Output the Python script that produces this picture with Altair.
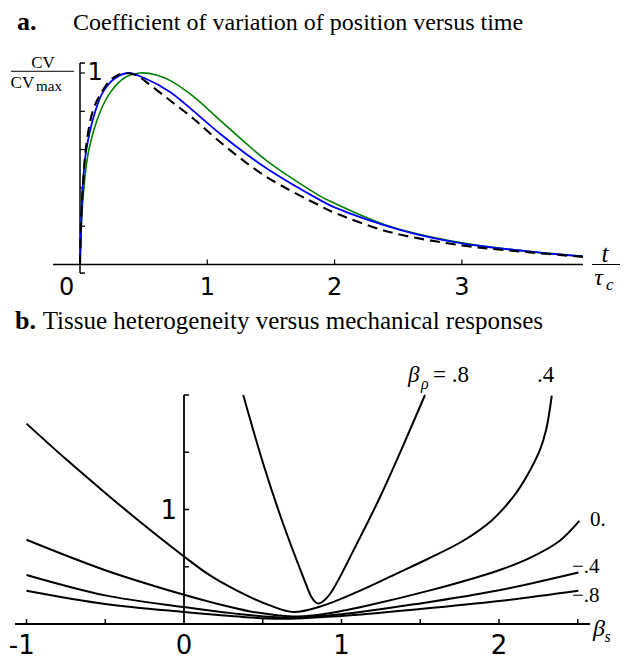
import altair as alt
import pandas as pd

# ---------------- panel a : CV/CVmax versus t/tau_c ----------------
A_DASH_T = [0, 0.01, 0.025, 0.045, 0.1, 0.17, 0.25, 0.35, 0.45, 0.565, 0.72, 0.885, 1.05, 1.25, 1.47, 1.89, 2.0, 2.43, 3.0, 3.5, 3.95]
A_DASH_V = [0, 0.25, 0.42, 0.6, 0.8, 0.9, 0.97, 1.0, 0.985, 0.93, 0.85, 0.765, 0.668, 0.56, 0.455, 0.305, 0.27, 0.17, 0.10, 0.065, 0.04]

A_BLUE_T = [0, 0.01, 0.02, 0.05, 0.12, 0.18, 0.27, 0.38, 0.5, 0.71, 0.885, 1.105, 1.3, 1.47, 1.89, 2.0, 2.52, 3.0, 3.5, 3.95]
A_BLUE_V = [0, 0.22, 0.4, 0.6, 0.8, 0.9, 0.97, 1.0, 0.975, 0.90, 0.805, 0.68, 0.58, 0.50, 0.335, 0.298, 0.18, 0.11, 0.07, 0.042]

A_GREEN_T = [0, 0.01, 0.03, 0.07, 0.16, 0.24, 0.35, 0.47, 0.6, 0.71, 0.885, 1.105, 1.3, 1.47, 1.89, 2.0, 2.43, 3.0, 3.5, 3.95]
A_GREEN_V = [0, 0.2, 0.4, 0.6, 0.8, 0.9, 0.975, 1.0, 0.99, 0.96, 0.88, 0.75, 0.635, 0.54, 0.356, 0.32, 0.2, 0.113, 0.07, 0.043]

A_XTICKS = [1, 2, 3]
A_XLABELS = ["0", "1", "2", "3"]
A_XLABEL_POS = [-0.105, 1, 2, 3]
A_YTICKS = [0.2, 0.4, 0.6, 0.8, 1.0]
A_YLABELS = ["1"]

# ---------------- panel b : heterogeneity versus responses ----------------
B_P08_S = [0.376, 0.503, 0.63, 0.757, 0.81, 0.835, 0.853, 0.875, 0.927, 1.097, 1.244, 1.392, 1.53]
B_P08_V = [2.0, 1.40, 0.873, 0.41, 0.233, 0.19, 0.18, 0.19, 0.262, 0.70, 1.107, 1.56, 2.0]

B_P04_S = [-1.0, -0.75, -0.5, -0.25, 0.0, 0.165, 0.42, 0.55, 0.694, 0.86, 1.1, 1.35, 1.55, 1.77, 1.95, 2.09, 2.18, 2.26, 2.3, 2.335]
B_P04_V = [1.75, 1.44, 1.145, 0.86, 0.59, 0.425, 0.235, 0.16, 0.105, 0.15, 0.28, 0.44, 0.57, 0.725, 0.90, 1.11, 1.30, 1.52, 1.70, 1.994]

B_P00_S = [-1.0, -0.5, 0.0, 0.2, 0.42, 0.6, 0.72, 0.9, 1.16, 1.58, 2.0, 2.2, 2.384, 2.51]
B_P00_V = [0.736, 0.47, 0.255, 0.18, 0.11, 0.075, 0.065, 0.09, 0.16, 0.30, 0.47, 0.58, 0.725, 0.9]

B_M04_S = [-1.0, -0.5, 0.0, 0.3, 0.65, 1.0, 1.5, 2.0, 2.504]
B_M04_V = [0.428, 0.25, 0.148, 0.095, 0.055, 0.085, 0.18, 0.295, 0.45]

B_M08_S = [-1.0, -0.5, 0.0, 0.3, 0.6, 1.0, 1.5, 2.0, 2.504]
B_M08_V = [0.291, 0.175, 0.105, 0.07, 0.045, 0.07, 0.13, 0.2, 0.29]

B_XTICKS = [-1, -0.5, 0.5, 1, 1.5, 2, 2.5]
B_XLABELS = ["-1", "0", "1", "2"]
B_XLABEL_POS = [-1.03, 0, 1, 2]
B_YTICKS = [0.5, 1, 1.5, 2]
B_YLABELS = ["1"]

# ---------------- layout (scale domains) ----------------
A_W, A_H = 617, 288
A_XDOM = [-0.5656, 4.2812]
A_YDOM = [-0.1802, 1.3238]
B_W, B_H = 617, 356
B_XDOM = [-1.1175, 2.8]
B_YDOM = [-0.2795, 2.8297]

SERIF = "Liberation Serif"
SANS = "DejaVu Sans"


def enc_x(field, dom):
    return alt.X(field, type="quantitative", scale=alt.Scale(domain=dom, nice=False, zero=False), axis=None)


def enc_y(field, dom):
    return alt.Y(field, type="quantitative", scale=alt.Scale(domain=dom, nice=False, zero=False), axis=None)


def line_layer(xs, ys, xdom, ydom, **kw):
    df = pd.DataFrame({"x": xs, "y": ys})
    return alt.Chart(df).mark_line(interpolate="catmull-rom", **kw).encode(
        x=enc_x("x", xdom), y=enc_y("y", ydom))


def rule_layer(df, xdom, ydom, **kw):
    return alt.Chart(df).mark_rule(color="black", **kw).encode(
        x=enc_x("x", xdom), x2=alt.X2("x2"), y=enc_y("y", ydom), y2=alt.Y2("y2"))


def text_layer(xs, ys, labels, xdom, ydom, **kw):
    df = pd.DataFrame({"x": xs, "y": ys, "label": labels})
    return alt.Chart(df).mark_text(color="black", **kw).encode(
        x=enc_x("x", xdom), y=enc_y("y", ydom), text="label:N")


# ---------- panel a ----------
a_axes = pd.DataFrame({
    "x": [-0.212, 0, 0, 0],
    "x2": [3.951, 0, 0.039, 0.039],
    "y": [0, -0.045, -0.045, 1.052],
    "y2": [0, 1.052, -0.045, 1.052],
})
a_xt = pd.DataFrame({"x": A_XTICKS, "x2": A_XTICKS, "y": [0] * 3, "y2": [0.026] * 3})
a_yt = pd.DataFrame({"x": [0] * 5, "x2": [0.039] * 5, "y": A_YTICKS, "y2": A_YTICKS})
a_frac = pd.DataFrame({"x": [-0.542, 4.022], "x2": [-0.047, 4.242], "y": [1.009, 0], "y2": [1.009, 0]})

panel_a = alt.layer(
    rule_layer(a_axes, A_XDOM, A_YDOM, strokeWidth=1.5),
    rule_layer(a_xt, A_XDOM, A_YDOM, strokeWidth=1.2),
    rule_layer(a_yt, A_XDOM, A_YDOM, strokeWidth=1.2),
    rule_layer(a_frac, A_XDOM, A_YDOM, strokeWidth=1),
    line_layer(A_GREEN_T, A_GREEN_V, A_XDOM, A_YDOM, color="#008000", strokeWidth=1.6),
    line_layer(A_BLUE_T, A_BLUE_V, A_XDOM, A_YDOM, color="#0000ff", strokeWidth=1.8),
    line_layer(A_DASH_T, A_DASH_V, A_XDOM, A_YDOM, color="black", strokeWidth=2.1, strokeDash=[10, 6]),
    text_layer(A_XLABEL_POS, [-0.158] * 4, A_XLABELS, A_XDOM, A_YDOM,
               font=SANS, fontSize=24, align="center", baseline="alphabetic"),
    text_layer([0.118], [1.0], A_YLABELS, A_XDOM, A_YDOM,
               font=SANS, fontSize=24, align="center", baseline="middle"),
    text_layer([-0.495], [1.225], ["a."], A_XDOM, A_YDOM,
               font=SERIF, fontSize=26, fontWeight="bold", align="left", baseline="alphabetic"),
    text_layer([-0.055], [1.225], ["Coefficient of variation of position versus time"], A_XDOM, A_YDOM,
               font=SERIF, fontSize=24, align="left", baseline="alphabetic"),
    text_layer([-0.29], [1.026], ["CV"], A_XDOM, A_YDOM,
               font=SERIF, fontSize=17, align="center", baseline="alphabetic"),
    text_layer([-0.545], [0.92], ["CV"], A_XDOM, A_YDOM,
               font=SERIF, fontSize=17, align="left", baseline="alphabetic"),
    text_layer([-0.345], [0.905], ["max"], A_XDOM, A_YDOM,
               font=SERIF, fontSize=15, align="left", baseline="alphabetic"),
    text_layer([4.124], [0.013], ["t"], A_XDOM, A_YDOM,
               font=SERIF, fontSize=25, fontStyle="italic", align="center", baseline="alphabetic"),
    text_layer([4.04], [-0.107], ["τ"], A_XDOM, A_YDOM,
               font=SERIF, fontSize=24, fontStyle="italic", align="left", baseline="alphabetic"),
    text_layer([4.132], [-0.133], ["c"], A_XDOM, A_YDOM,
               font=SERIF, fontSize=17, fontStyle="italic", align="left", baseline="alphabetic"),
).properties(width=A_W, height=A_H)

# ---------- panel b ----------
b_axes = pd.DataFrame({"x": [-1.073, 0], "x2": [2.578, 0], "y": [0, 0], "y2": [0, 2.0]})
b_xt = pd.DataFrame({"x": B_XTICKS, "x2": B_XTICKS, "y": [0] * 7, "y2": [0.044] * 7})
b_yt = pd.DataFrame({"x": [0] * 4, "x2": [0.032] * 4, "y": B_YTICKS, "y2": B_YTICKS})

curve_kw = dict(color="black", strokeWidth=2)
panel_b = alt.layer(
    rule_layer(b_axes, B_XDOM, B_YDOM, strokeWidth=1.8),
    rule_layer(b_xt, B_XDOM, B_YDOM, strokeWidth=1.5),
    rule_layer(b_yt, B_XDOM, B_YDOM, strokeWidth=1.5),
    line_layer(B_P08_S, B_P08_V, B_XDOM, B_YDOM, **curve_kw),
    line_layer(B_P04_S, B_P04_V, B_XDOM, B_YDOM, **curve_kw),
    line_layer(B_P00_S, B_P00_V, B_XDOM, B_YDOM, **curve_kw),
    line_layer(B_M04_S, B_M04_V, B_XDOM, B_YDOM, **curve_kw),
    line_layer(B_M08_S, B_M08_V, B_XDOM, B_YDOM, **curve_kw),
    text_layer(B_XLABEL_POS, [-0.262] * 4, B_XLABELS, B_XDOM, B_YDOM,
               font=SANS, fontSize=26, align="center", baseline="alphabetic"),
    text_layer([-0.044], [0.987], B_YLABELS, B_XDOM, B_YDOM,
               font=SANS, fontSize=26, align="right", baseline="middle"),
    text_layer([-1.073], [2.576], ["b."], B_XDOM, B_YDOM,
               font=SERIF, fontSize=26, fontWeight="bold", align="left", baseline="alphabetic"),
    text_layer([-0.897], [2.576], ["Tissue heterogeneity versus mechanical responses"], B_XDOM, B_YDOM,
               font=SERIF, fontSize=25, align="left", baseline="alphabetic"),
    text_layer([1.422], [2.114], ["β"], B_XDOM, B_YDOM,
               font=SERIF, fontSize=23, fontStyle="italic", align="left", baseline="alphabetic"),
    text_layer([1.505], [2.052], ["ρ"], B_XDOM, B_YDOM,
               font=SERIF, fontSize=16, fontStyle="italic", align="left", baseline="alphabetic"),
    text_layer([1.581, 2.241], [2.114, 2.114], ["= .8", ".4"], B_XDOM, B_YDOM,
               font=SERIF, fontSize=23, align="left", baseline="alphabetic"),
    text_layer([2.578, 2.463, 2.463], [0.856, 0.445, 0.192], ["0.", "−.4", "−.8"], B_XDOM, B_YDOM,
               font=SERIF, fontSize=21, align="left", baseline="alphabetic"),
    text_layer([2.597], [-0.105], ["β"], B_XDOM, B_YDOM,
               font=SERIF, fontSize=24, fontStyle="italic", align="left", baseline="alphabetic"),
    text_layer([2.67], [-0.157], ["s"], B_XDOM, B_YDOM,
               font=SERIF, fontSize=16, fontStyle="italic", align="left", baseline="alphabetic"),
).properties(width=B_W, height=B_H)

chart = alt.vconcat(panel_a, panel_b, spacing=0).properties(padding=0).configure_view(stroke=None)

chart.save("out.html", embed_options={"renderer": "svg", "actions": False})
